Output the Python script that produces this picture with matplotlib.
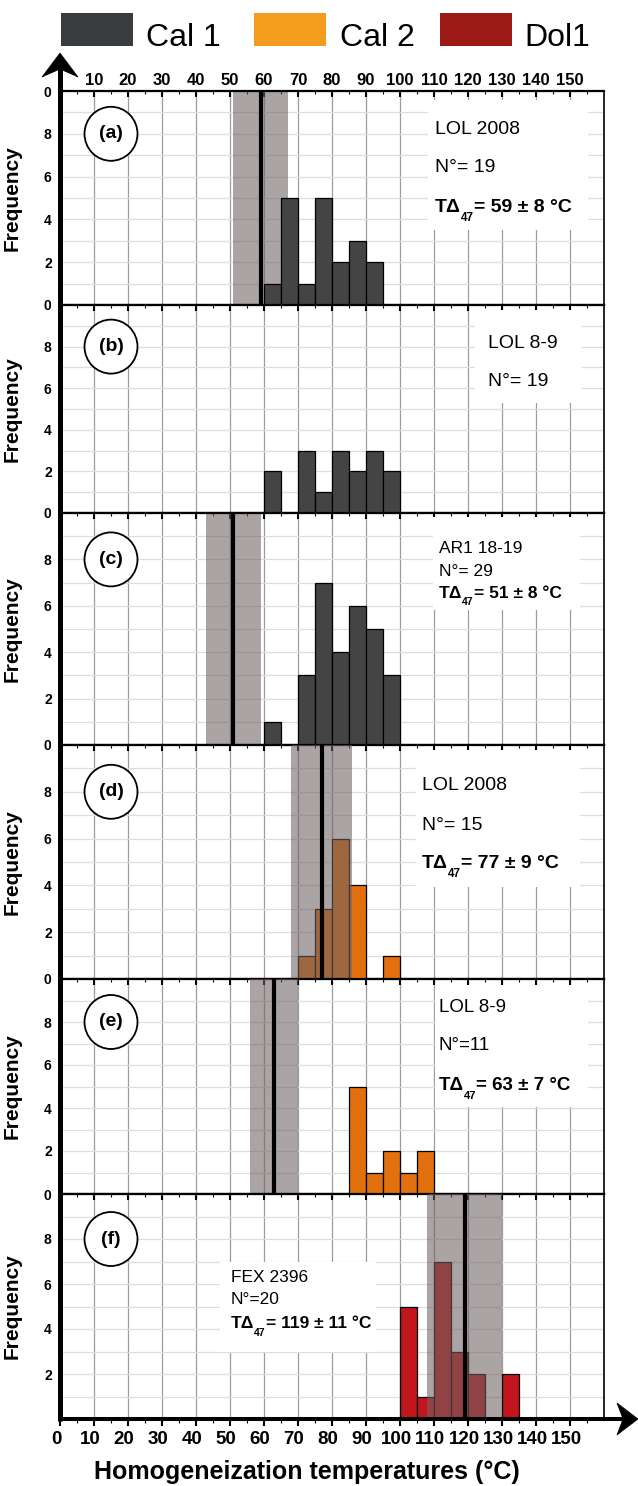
import matplotlib
matplotlib.use('Agg')
import matplotlib.pyplot as plt
from matplotlib.patches import Ellipse, Rectangle, Polygon
from matplotlib.transforms import ScaledTranslation

# ---------------- data ----------------
bin_width = 5
panel_tags = ['(a)', '(b)', '(c)', '(d)', '(e)', '(f)']
a_left = [60, 65, 70, 75, 80, 85, 90]
a_counts = [1, 5, 1, 5, 2, 3, 2]
b_left = [60, 70, 75, 80, 85, 90, 95]
b_counts = [2, 3, 1, 3, 2, 3, 2]
c_left = [60, 70, 75, 80, 85, 90, 95]
c_counts = [1, 3, 7, 4, 6, 5, 3]
d_left = [70, 75, 80, 85, 95]
d_counts = [1, 3, 6, 4, 1]
e_left = [85, 90, 95, 100, 105]
e_counts = [5, 1, 2, 1, 2]
f_left = [100, 105, 110, 115, 120, 130]
f_counts = [5, 1, 7, 3, 2, 2]
sample_names = ['LOL 2008', 'LOL 8-9', 'AR1 18-19', 'LOL 2008', 'LOL 8-9', 'FEX 2396']
n_texts = ['N°= 19', 'N°= 19', 'N°= 29', 'N°= 15', 'N°=11', 'N°=20']
t_mean = [59, None, 51, 77, 63, 119]
t_err = [8, None, 8, 9, 7, 11]
phase = ['Cal 1', 'Cal 1', 'Cal 1', 'Cal 2', 'Cal 2', 'Dol1']
legend_labels = ['Cal 1', 'Cal 2', 'Dol1']
top_ticks = list(range(10, 160, 10))
bottom_ticks = list(range(0, 160, 10))
y_ticks = [0, 2, 4, 6, 8]
xlabel = 'Homogeneization temperatures (°C)'
ylabel = 'Frequency'

lefts = [a_left, b_left, c_left, d_left, e_left, f_left]
counts = [a_counts, b_counts, c_counts, d_counts, e_counts, f_counts]

# ---------------- style / layout ----------------
W, H, DPI = 638, 1486, 100
FONT = ['Liberation Sans', 'DejaVu Sans']
plt.rcParams['font.family'] = FONT

bar_colors = {'Cal 1': '#444444', 'Cal 2': '#e3700f', 'Dol1': '#c1161b'}
legend_colors = {'Cal 1': '#383c3c', 'Cal 2': '#f39c1e', 'Dol1': '#9b1a16'}
band_on_top = [False, False, False, True, True, True]

panel_px = [(91, 305), (305, 513), (513, 745), (745, 979), (979, 1194), (1194, 1419)]
X0, X1 = 60, 604

# text boxes (px): x0, x1, y0, y1
box_px = [(428, 588, 100, 230), (475, 582, 310, 403), (433, 580, 517, 610),
          (416, 580, 750, 887), (435, 588, 985, 1107), (220, 376, 1262, 1352)]
text_x = [435, 488, 439, 422, 439, 231]
text_y = [(129, 168, 207), (343, 382), (549, 572, 593), (785, 825, 863),
          (1008, 1046, 1086), (1277, 1300, 1324)]
text_size = [14, 14, 12.5, 14, 13.5, 12.5]


def fx(x):
    return x / W


def fy(y):
    return 1 - y / H


fig = plt.figure(figsize=(W / DPI, H / DPI), dpi=DPI)

axes = []
for i in range(6):
    top, bot = panel_px[i]
    ax = fig.add_axes([fx(X0), fy(bot), (X1 - X0) / W, (bot - top) / H])
    axes.append(ax)
    ax.set_xlim(0, 160)
    ax.set_ylim(0, 10)
    ax.set_facecolor('white')

    # grid
    ax.set_xticks(top_ticks)
    ax.set_xticks([v + 5 for v in range(0, 160, 10)], minor=True)
    ax.set_yticks(range(0, 11), minor=True)
    ax.grid(True, axis='x', which='major', color='#9c9c9c', lw=0.9, zorder=0.5)
    ax.grid(True, axis='y', which='both', color='#dddddd', lw=0.9, zorder=0.4)

    # bars
    ax.bar(lefts[i], counts[i], width=bin_width, align='edge',
           color=bar_colors[phase[i]], edgecolor='black', lw=0.9, zorder=3)

    # clumped isotope temperature band and line
    if t_mean[i] is not None:
        ax.axvspan(t_mean[i] - t_err[i], t_mean[i] + t_err[i], color='#6f6262',
                   alpha=0.58, lw=0, zorder=4 if band_on_top[i] else 2)
        ax.axvline(t_mean[i], color='black', lw=3, zorder=5)

    # y ticks
    if i == 5:
        yt = [2, 4, 6, 8]
        ax.set_yticks(yt)
        ax.set_yticklabels([str(v) for v in yt])
    elif i == 0:
        yt = y_ticks + [10]
        ax.set_yticks(yt)
        ax.set_yticklabels([str(v) for v in y_ticks] + ['0'])
    else:
        ax.set_yticks(y_ticks)
        ax.set_yticklabels([str(v) for v in y_ticks])
    ax.tick_params(axis='y', which='both', length=0, pad=6, labelsize=10)
    for lab in ax.get_yticklabels():
        lab.set_fontweight('bold')

    # x ticks on top (inside)
    ax.tick_params(axis='x', which='both', top=True, bottom=False, direction='in',
                   labelbottom=False, labeltop=(i == 0), color='black')
    ax.tick_params(axis='x', which='major', length=4.5, width=1.5, labelsize=12, pad=2)
    ax.tick_params(axis='x', which='minor', length=2.5, width=0.8)
    if i == 0:
        for lab in ax.get_xticklabels():
            lab.set_fontweight('bold')

    # spines
    ax.spines['left'].set_visible(False)
    ax.spines['top'].set_linewidth(1.6)
    ax.spines['bottom'].set_linewidth(1.6 if i < 5 else 0)
    ax.spines['right'].set_linewidth(1.2)

    # y label
    ax.set_ylabel(ylabel, fontsize=15, fontweight='bold')
    ax.yaxis.set_label_coords((22 - X0) / (X1 - X0), 0.5)

    # panel tag circle
    ph = bot - top
    ax.add_patch(Ellipse((15, 8), 53 / ((X1 - X0) / 160), 54 / (ph / 10),
                         facecolor='white', edgecolor='black', lw=1.3, zorder=6))
    ax.text(15, 8, panel_tags[i], ha='center', va='center', fontsize=14,
            fontweight='bold', zorder=7)

    # white box behind text (above grid, inside the axes drawing order)
    bx0, bx1, by0, by1 = box_px[i]
    ax.add_patch(Rectangle((fx(bx0), fy(by1)), (bx1 - bx0) / W, (by1 - by0) / H,
                           transform=fig.transFigure, facecolor='white',
                           edgecolor='none', zorder=2.5, clip_on=False))
    ys = text_y[i]
    fs = text_size[i]
    ax.annotate(sample_names[i], xy=(fx(text_x[i]), fy(ys[0])), xycoords='figure fraction',
                fontsize=fs, va='center', ha='left', annotation_clip=False, zorder=8)
    ax.annotate(n_texts[i], xy=(fx(text_x[i]), fy(ys[1])), xycoords='figure fraction',
                fontsize=fs, va='center', ha='left', annotation_clip=False, zorder=8)
    if t_mean[i] is not None:
        base = ax.annotate('TΔ', xy=(fx(text_x[i]), fy(ys[2])), xycoords='figure fraction',
                           fontsize=fs, fontweight='bold', va='center', ha='left',
                           annotation_clip=False, zorder=8)
        sub = ax.annotate('47', xy=(1, 0.22), xycoords=base, fontsize=fs * 0.6,
                          fontweight='bold', va='top', ha='left',
                          annotation_clip=False, zorder=8)
        ax.annotate(f'= {t_mean[i]} ± {t_err[i]} °C', xy=(1, 0), xycoords=(sub, base),
                    fontsize=fs, fontweight='bold', va='bottom', ha='left',
                    annotation_clip=False, zorder=8)

# bottom panel: outward ticks with labels
axf = axes[5]
sec = axf.secondary_xaxis('bottom')
sec.set_xticks(bottom_ticks)
sec.set_xticks([v + 5 for v in range(0, 160, 10)], minor=True)
sec.spines['bottom'].set_visible(False)
sec.tick_params(axis='x', which='major', direction='out', length=5, width=1.5,
                labelsize=13.5, pad=4)
sec.tick_params(axis='x', which='minor', direction='out', length=3, width=0.8)
offset = ScaledTranslation(-4 / DPI, 0, fig.dpi_scale_trans)
for lab in sec.get_xticklabels():
    lab.set_fontweight('bold')
    lab.set_transform(lab.get_transform() + offset)

# x label
fig.text(fx(307), fy(1472), xlabel, ha='center', va='center', fontsize=18,
         fontweight='bold')

# long axes with arrow heads
fig.add_artist(plt.Line2D([fx(60), fx(60)], [fy(1421), fy(66)], color='black',
                          lw=3.6, transform=fig.transFigure, zorder=10,
                          solid_capstyle='butt'))
fig.add_artist(Polygon([(fx(60), fy(53)), (fx(42), fy(77)), (fx(60), fy(69)),
                        (fx(78), fy(77))], closed=True, transform=fig.transFigure,
                       facecolor='black', edgecolor='black', lw=0.5, zorder=10))
fig.add_artist(plt.Line2D([fx(58), fx(628)], [fy(1419), fy(1419)], color='black',
                          lw=2.9, transform=fig.transFigure, zorder=10,
                          solid_capstyle='butt'))
fig.add_artist(Polygon([(fx(638), fy(1419)), (fx(617), fy(1403)), (fx(623), fy(1419)),
                        (fx(617), fy(1435))], closed=True, transform=fig.transFigure,
                       facecolor='black', edgecolor='black', lw=0.5, zorder=10))

# legend
leg_rect_x = [61, 254, 440]
leg_text_x = [146, 340, 524]
for k, lab in enumerate(legend_labels):
    fig.add_artist(Rectangle((fx(leg_rect_x[k]), fy(46)), 72 / W, 33 / H,
                             transform=fig.transFigure,
                             facecolor=legend_colors[lab], edgecolor='none'))
    fig.text(fx(leg_text_x[k]), fy(46), lab, fontsize=23, va='baseline', ha='left')

fig.savefig('out.png', dpi=DPI)
